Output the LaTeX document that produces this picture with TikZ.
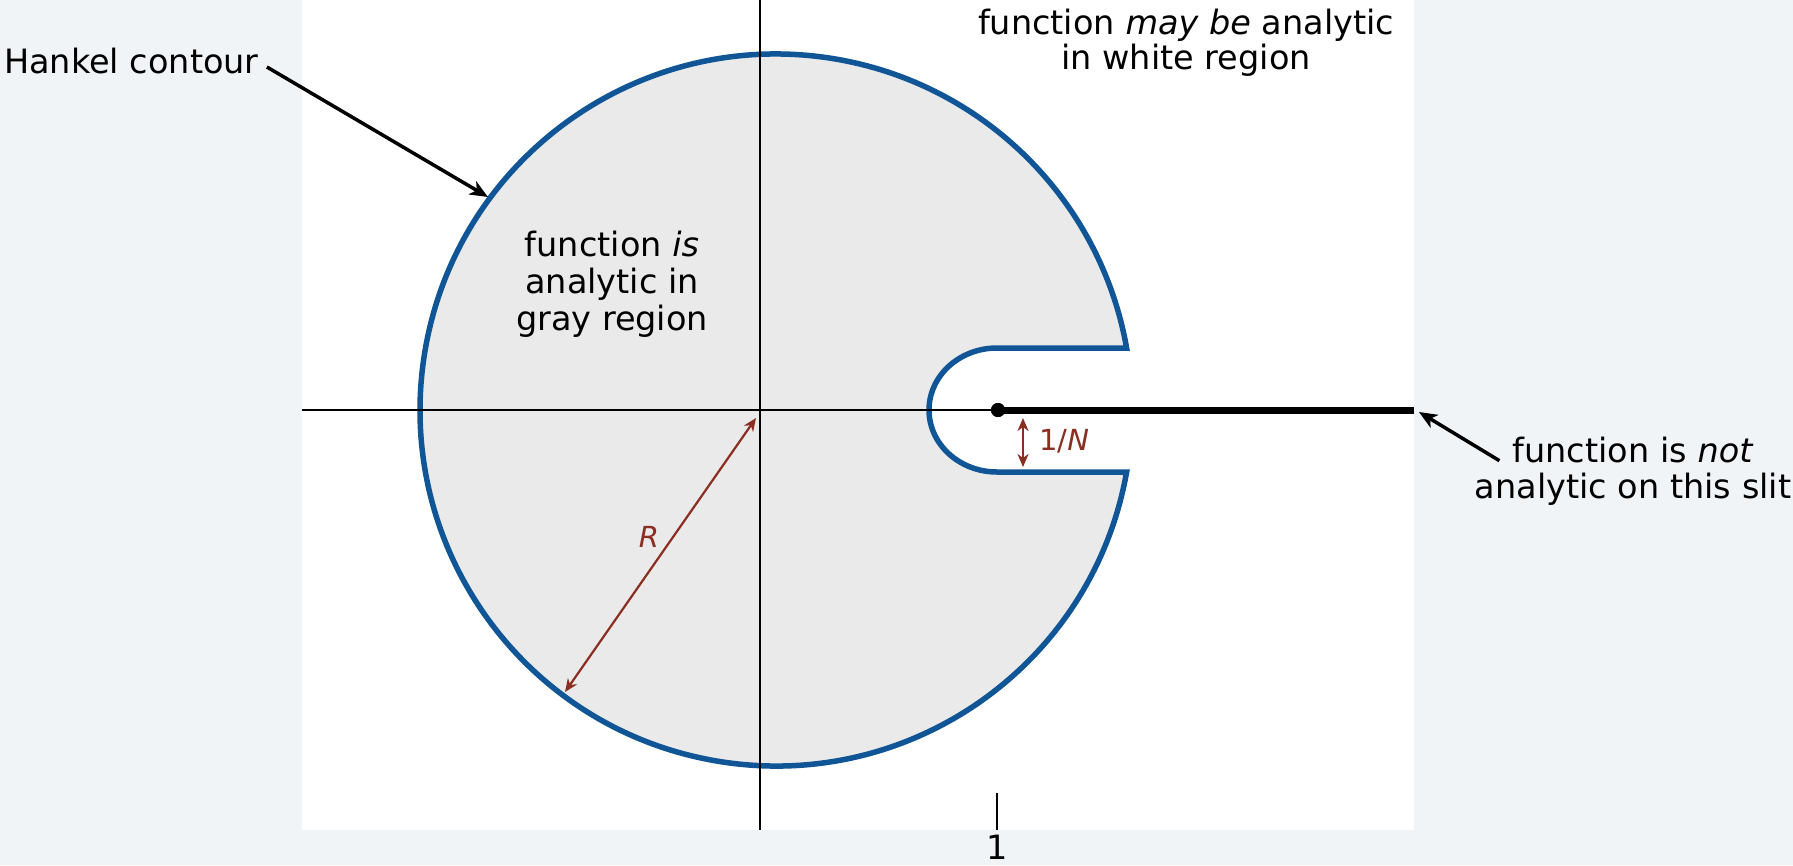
\documentclass[tikz,border=0pt]{standalone}
\usepackage{fontspec}
\setmainfont{DejaVu Sans}
\usetikzlibrary{arrows.meta}
\definecolor{contourblue}{RGB}{16,86,150}
\definecolor{grayfill}{RGB}{234,234,234}
\definecolor{slidebg}{RGB}{241,244,247}
\definecolor{dimred}{RGB}{139,46,34}
\newcommand{\lbl}{\fontsize{33.5}{37}\selectfont}
\newcommand{\dimlbl}{\fontsize{29}{34}\selectfont}
\begin{document}
\begin{tikzpicture}[x=1pt,y=-1pt,every node/.style={inner sep=0pt}]
\tikzstyle{arrow}=[draw,-{Stealth[length=18pt,width=15pt,inset=5pt]},line width=3.5pt]
\tikzstyle{dim}=[draw,{Stealth[length=13pt,width=11pt,inset=4pt]}-{Stealth[length=13pt,width=11pt,inset=4pt]},line width=2.2pt,dimred]
\tikzstyle{axis}=[draw,line width=1.5pt]
\tikzstyle{txt}=[anchor=base,font=\lbl]

\fill[slidebg](0,0) rectangle (1793,865);
\useasboundingbox (0,0) rectangle (1793,865);
\fill[white](302,0) rectangle (1414,830);

% contour
\path[fill=grayfill,draw=contourblue,line width=5.5pt]
  (1126.6,472) arc[start angle=10.03,end angle=349.97,radius=356]
  -- (997,348) arc[start angle=270,end angle=90,x radius=68,y radius=62]
  -- cycle;

\coordinate (o) at (760,410);
\coordinate (xl) at (302,410);
\coordinate (yt) at (760,0);
\coordinate (yb) at (760,830);
\coordinate (slitend) at (1414,410);
\node[circle,fill,minimum size=14pt](one) at (998,410){};

\path[axis](xl)--(one.center);
\path[axis](yt)--(yb);
\path[draw,line width=7pt](one.center)--(slitend);
\node[circle,fill,minimum size=14pt] at (one){};

% tick at 1
\coordinate (tt) at (997,793);
\coordinate (tb) at (997,830);
\path[draw,line width=2pt](tt)--(tb);
\node[anchor=north,font=\lbl](t1) at (997,835){1};

% R and 1/N
\coordinate (rin) at (756,418);
\coordinate (rout) at (565,692);
\path[dim](rin)--(rout);
\node[font=\dimlbl,text=dimred](rlab) at (649,537){\textit{R}};

\coordinate (na) at (1023,418);
\coordinate (nb) at (1023,467);
\path[dim](na)--(nb);
\node[anchor=base west,font=\dimlbl,text=dimred](nlab) at (1039,450){1/\textit{N}};

% labels
\node[txt](g1) at (612,256){function \emph{is}};
\node[txt](g2) at ([yshift=-37pt]g1.base){analytic in};
\node[txt](g3) at ([yshift=-37pt]g2.base){gray region};

\node[txt](w1) at (1186,34){function \emph{may be} analytic};
\node[txt](w2) at ([yshift=-35pt]w1.base){in white region};

\node[txt,anchor=base west](hankel) at (4,73){Hankel contour};
\coordinate (hk) at (488,197);
\path[arrow]([xshift=8pt,yshift=6pt]hankel.base east)--(hk);

\node[txt](not1) at (1633,462){function is \emph{not}};
\node[txt](not2) at ([yshift=-36pt]not1.base){analytic on this slit};
\coordinate (slithead) at (1419,412);
\path[arrow]([xshift=-13pt,yshift=2pt]not1.south west)--(slithead);
\end{tikzpicture}
\end{document}
